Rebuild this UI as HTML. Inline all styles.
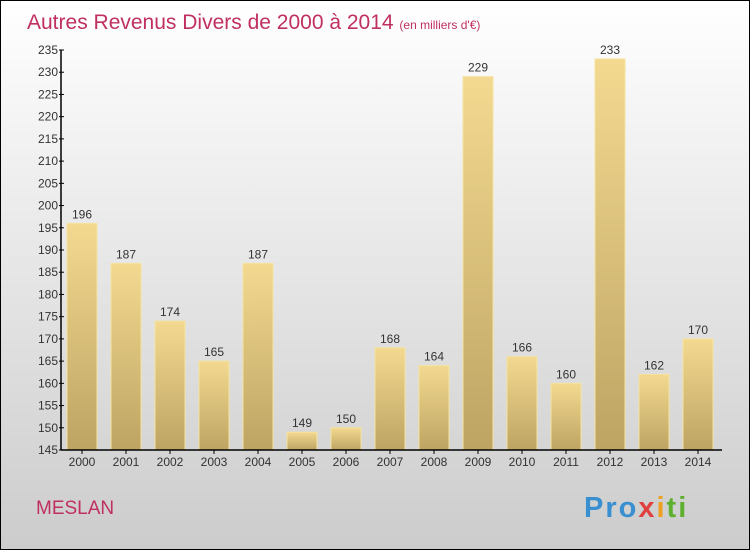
<!DOCTYPE html>
<html><head><meta charset="utf-8"><style>
body{margin:0}
#c{width:750px;height:550px;position:relative;font-family:"Liberation Sans",sans-serif}
</style></head><body>
<div id="c">
<svg width="750" height="550" id="s">
<defs>
<linearGradient id="bg" x1="0" y1="0" x2="0" y2="1"><stop offset="0" stop-color="#ffffff"/><stop offset="1" stop-color="#cccccc"/></linearGradient>
<linearGradient id="bar" x1="0" y1="0" x2="0" y2="1"><stop offset="0" stop-color="#f3d990"/><stop offset="1" stop-color="#bda463"/></linearGradient>
</defs>
<rect x="0.5" y="0.5" width="749" height="549" fill="url(#bg)" stroke="#000"/>
<text x="27" y="29" font-size="21" fill="#c0305f">Autres Revenus Divers de 2000 à 2014 <tspan font-size="12">(en milliers d'€)</tspan></text>
<text x="36" y="514" font-size="19" fill="#c0305f">MESLAN</text>
<text x="584" y="517" font-size="29" font-weight="bold" letter-spacing="2" fill="#3a8fd0">Pro<tspan fill="#e04040">x</tspan><tspan fill="#f0a020">i</tspan><tspan fill="#60b030">ti</tspan></text>
<g id="g"></g>
</svg>
</div>
<script>
const years=["2000","2001","2002","2003","2004","2005","2006","2007","2008","2009","2010","2011","2012","2013","2014"];
const values=[196,187,174,165,187,149,150,168,164,229,166,160,233,162,170];
const ticks=[145,150,155,160,165,170,175,180,185,190,195,200,205,210,215,220,225,230,235];
const NS="http://www.w3.org/2000/svg",g=document.getElementById("g");
const y=v=>450-(v-145)*400/90, x=i=>82+i*44;
function mk(t,a,txt){const e=document.createElementNS(NS,t);for(const k in a)e.setAttribute(k,a[k]);if(txt!=null)e.textContent=txt;g.appendChild(e);return e;}
values.forEach((v,i)=>{
 const r=mk("rect",{x:x(i)-15,y:y(v),width:30,height:450-y(v),fill:"url(#bar)",stroke:"#f5e3a0","stroke-width":1});
 
 
 const t=mk("text",{x:x(i),y:y(v)-5,"font-size":12,"text-anchor":"middle",fill:"#333"},v);
 
 
 const l=mk("text",{x:x(i),y:466,"font-size":12,"text-anchor":"middle",fill:"#333"},years[i]);
 
 
 const tk=mk("line",{x1:x(i),x2:x(i),y1:450,y2:454,stroke:"#000"});
 
 
});
ticks.forEach(v=>{
 const l=mk("line",{x1:59,x2:64,y1:y(v),y2:y(v),stroke:"#000"});
 
 
 const t=mk("text",{x:58,y:y(v)+4,"font-size":12,"text-anchor":"end",fill:"#333"},v);
 
 
});
const ya=mk("line",{x1:61,x2:61,y1:y(235),y2:450,stroke:"#000","stroke-width":1.5});


const xa=mk("line",{x1:61,x2:722,y1:450,y2:450,stroke:"#000","stroke-width":1.5});


</script>
</body></html>
